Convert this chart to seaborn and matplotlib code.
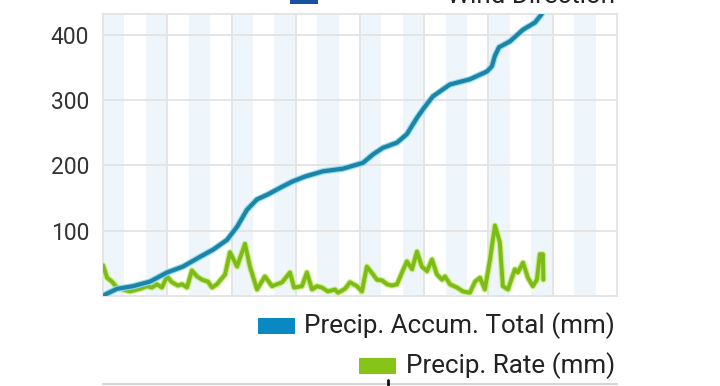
import pandas as pd
import numpy as np
import matplotlib.pyplot as plt
import matplotlib.patheffects as pe
from matplotlib.patches import Rectangle
from matplotlib.lines import Line2D
import seaborn as sns

# accumulated precipitation (mm), x in days from start of the window
accum_day = [0.09, 0.65, 1.40, 2.19, 2.99, 3.73, 4.53, 5.14, 5.79, 6.26, 6.72,
             7.19, 7.66, 8.40, 8.82, 9.43, 10.27, 11.20, 12.14, 12.61, 13.07,
             13.73, 14.19, 14.66, 15.03, 15.41, 16.20, 17.13, 17.93, 18.16,
             18.30, 18.49, 19.00, 19.61, 20.17, 20.49]
accum_mm = [2, 11, 15, 22, 36, 45, 60, 71, 86, 106, 132, 148, 155, 168, 175, 183,
            191, 195, 204, 217, 227, 235, 248, 273, 290, 306, 324, 332, 344, 352,
            368, 381, 390, 408, 419, 432]

rate_day = [0.00, 0.19, 0.42, 0.65, 0.93, 1.26, 1.73, 2.05, 2.29, 2.52, 2.75,
            2.99, 3.22, 3.50, 3.69, 3.92, 4.15, 4.39, 4.62, 4.90, 5.09, 5.32,
            5.70, 5.93, 6.26, 6.63, 6.86, 7.19, 7.56, 7.89, 8.36, 8.73, 8.92,
            9.29, 9.52, 9.76, 9.99, 10.22, 10.50, 10.83, 10.97, 11.30, 11.53,
            11.86, 12.09, 12.32, 12.61, 12.79, 13.03, 13.26, 13.49, 13.73, 13.96,
            14.19, 14.43, 14.66, 14.89, 15.13, 15.36, 15.59, 15.83, 15.97, 16.20,
            16.53, 16.81, 17.13, 17.37, 17.60, 17.83, 18.07, 18.30, 18.53, 18.67,
            18.91, 19.23, 19.37, 19.61, 19.84, 20.07, 20.26, 20.40, 20.54, 20.56]
rate_mm = [47, 28, 22, 13, 10, 7, 11, 15, 13, 18, 13, 30, 21, 16, 18, 13, 39, 30,
           25, 22, 13, 18, 33, 67, 45, 80, 45, 10, 30, 15, 21, 36, 13, 15, 36, 10,
           15, 13, 7, 10, 5, 11, 21, 15, 7, 45, 33, 25, 24, 18, 16, 18, 36, 53,
           41, 68, 45, 38, 56, 33, 25, 30, 18, 13, 7, 5, 22, 28, 10, 56, 108, 82,
           15, 10, 41, 36, 51, 28, 15, 25, 64, 64, 25]

yticks = [100, 200, 300, 400]
n_days = 24

accum = pd.DataFrame({"day": accum_day, "mm": accum_mm})
rate = pd.DataFrame({"day": rate_day, "mm": rate_mm})

sns.set_theme(style="white")
plt.rcParams["font.family"] = ["Roboto", "DejaVu Sans"]

fig = plt.figure(figsize=(7.2, 3.86), dpi=100)
ax = fig.add_axes([103 / 720, 1 - 296 / 386, 514 / 720, 282 / 386])

# alternating day bands
for d in range(0, n_days, 2):
    ax.axvspan(d, d + 1, color="#eef5fb", lw=0, zorder=0)

for d in range(3, n_days, 3):
    ax.axvline(d, color="#e3e3e3", lw=1.3, zorder=1)
for t in yticks:
    ax.axhline(t, color="#e3e3e3", lw=1.3, zorder=1)

sns.lineplot(data=rate, x="day", y="mm", ax=ax, color="#7dbb1c", lw=2.8,
             sort=False, zorder=3,
             path_effects=[pe.Stroke(linewidth=4.4, foreground="#c8ee72"), pe.Normal()])
sns.lineplot(data=accum, x="day", y="mm", ax=ax, color="#1d84a6", lw=3.0,
             sort=False, zorder=4,
             path_effects=[pe.Stroke(linewidth=4.6, foreground="#8fdcf2"), pe.Normal()])

ax.set_xlim(0, n_days)
ax.set_ylim(0, 432)
ax.set_xticks([])
ax.set_yticks(yticks)
ax.set_yticklabels([str(t) for t in yticks], fontsize=16.5, color="#333333")
ax.tick_params(axis="y", length=0, pad=10)
ax.set_xlabel("")
ax.set_ylabel("")
for s in ax.spines.values():
    s.set_color("#e3e3e3")
    s.set_linewidth(1.3)

# legend entries, right aligned like the source widget
W, H = 720, 386


def legend_item(label, color, y_mid, sq_left):
    fig.patches.append(Rectangle((sq_left / W, 1 - (y_mid + 8) / H), 37 / W, 16 / H,
                                 transform=fig.transFigure, color=color, lw=0))
    fig.text(615 / W, 1 - y_mid / H, label, ha="right", va="center",
             fontsize=18.7, color="#222222")


legend_item("Precip. Accum. Total (mm)", "#0a88c2", 326, 258)
legend_item("Precip. Rate (mm)", "#86c418", 366, 359)

# clipped entry at the top edge
fig.patches.append(Rectangle((290 / W, 1 - 4 / H), 28 / W, 10 / H,
                             transform=fig.transFigure, color="#1552a2", lw=0))
fig.text(615 / W, 1 - 3 / H, "Wind Direction", ha="right", va="baseline",
         fontsize=18.7, color="#222222")

fig.lines.append(Line2D([103 / W, 617 / W], [1 - 384 / H, 1 - 384 / H],
                        transform=fig.transFigure, color="#d5d5d5", lw=1.5))
fig.lines.append(Line2D([388 / W, 388 / W], [1 - 386 / H, 1 - 380 / H],
                        transform=fig.transFigure, color="#111111", lw=2))

fig.savefig("out.png", dpi=100)
